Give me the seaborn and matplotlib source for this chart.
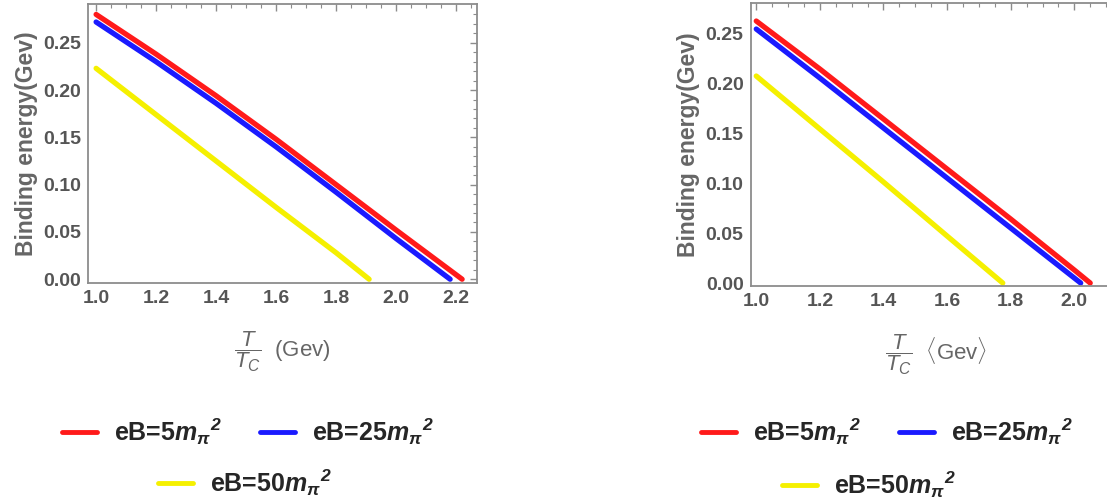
import numpy as np
import pandas as pd
import matplotlib
matplotlib.use("Agg")
import matplotlib.pyplot as plt
import seaborn as sns

# ---------------------------------------------------------
# data (T/Tc, binding energy in GeV)
# ---------------------------------------------------------
fields = ["eB=5", "eB=25", "eB=50"]

# left panel
left_red_x = [1.0, 1.2, 1.4, 1.6, 1.8, 2.0, 2.22]
left_red_y = [0.280, 0.238, 0.194, 0.148, 0.100, 0.052, 0.0]
left_blue_x = [1.0, 1.2, 1.4, 1.6, 1.8, 2.0, 2.18]
left_blue_y = [0.272, 0.230, 0.186, 0.140, 0.092, 0.043, 0.0]
left_yellow_x = [1.0, 1.2, 1.4, 1.6, 1.8, 1.91]
left_yellow_y = [0.223, 0.174, 0.125, 0.076, 0.028, 0.0]

# right panel
right_red_x = [1.0, 1.2, 1.4, 1.6, 1.8, 2.0, 2.05]
right_red_y = [0.262, 0.214, 0.164, 0.114, 0.064, 0.013, 0.0]
right_blue_x = [1.0, 1.2, 1.4, 1.6, 1.8, 2.0, 2.02]
right_blue_y = [0.254, 0.205, 0.155, 0.105, 0.055, 0.005, 0.0]
right_yellow_x = [1.0, 1.2, 1.4, 1.6, 1.775]
right_yellow_y = [0.207, 0.154, 0.101, 0.047, 0.0]

colors = {"eB=5": "#ff1a1a", "eB=25": "#1a1aff", "eB=50": "#f5f000"}
legend_labels = [r"eB=5$\mathbf{m}_{\mathbf{\pi}}{}^{\mathbf{2}}$",
                 r"eB=25$\mathbf{m}_{\mathbf{\pi}}{}^{\mathbf{2}}$",
                 r"eB=50$\mathbf{m}_{\mathbf{\pi}}{}^{\mathbf{2}}$"]


def make_df(xs, ys):
    rows = []
    for name, x, y in zip(fields, xs, ys):
        for a, b in zip(x, y):
            rows.append({"T": a, "E": b, "field": name})
    return pd.DataFrame(rows)


df_left = make_df([left_red_x, left_blue_x, left_yellow_x],
                  [left_red_y, left_blue_y, left_yellow_y])
df_right = make_df([right_red_x, right_blue_x, right_yellow_x],
                   [right_red_y, right_blue_y, right_yellow_y])

sns.set_style("white")
plt.rcParams["font.family"] = ["Liberation Sans", "DejaVu Sans"]
plt.rcParams["mathtext.fontset"] = "custom"
plt.rcParams["mathtext.rm"] = "Liberation Sans"
plt.rcParams["mathtext.it"] = "Liberation Sans:italic"
plt.rcParams["mathtext.bf"] = "Liberation Sans:italic:bold"

GRAY = "#555555"
SPINE = "#8c8c8c"

fig = plt.figure(figsize=(11.07, 5.04), dpi=100)
ax1 = fig.add_axes([0.0795, 0.4385, 0.3515, 0.5535])
ax2 = fig.add_axes([0.678, 0.4325, 0.335, 0.5615])


def style_axes(ax, df, xlim, ylim, xlabel):
    sns.lineplot(data=df, x="T", y="E", hue="field", hue_order=fields,
                 palette=colors, estimator=None, sort=True, linewidth=3.8,
                 legend=False, ax=ax)
    ax.set_xticks(np.arange(1.0, 2.21, 0.2))
    ax.set_xticks(np.arange(1.0, 2.3, 0.05), minor=True)
    ax.set_yticks(np.arange(0.0, 0.251, 0.05))
    ax.set_yticks(np.arange(0.0, 0.29, 0.01), minor=True)
    # limits after the ticks, otherwise set_xticks widens the view
    ax.set_xlim(*xlim)
    ax.set_ylim(*ylim)
    ax.xaxis.set_major_formatter(matplotlib.ticker.FormatStrFormatter("%.1f"))
    ax.yaxis.set_major_formatter(matplotlib.ticker.FormatStrFormatter("%.2f"))
    ax.tick_params(which="both", direction="in", top=True, right=True,
                   color=SPINE, labelcolor=GRAY, labelsize=14, pad=5)
    ax.tick_params(which="major", length=5, width=1)
    ax.tick_params(which="minor", length=3, width=0.8)
    for lab in ax.get_xticklabels() + ax.get_yticklabels():
        lab.set_fontweight("bold")
    for sp in ax.spines.values():
        sp.set_color(SPINE)
        sp.set_linewidth(1.3)
    ax.set_ylabel("Binding energy(Gev)", color="#666666", fontsize=16.5,
                  fontweight="bold", labelpad=4)
    ax.set_xlabel(xlabel, color="#666666", fontsize=16, labelpad=16)


style_axes(ax1, df_left, (0.973, 2.27), (-0.004, 0.291),
           r"$\dfrac{T}{T_C}$  (Gev)")
style_axes(ax2, df_right, (0.982, 2.148), (-0.003, 0.28),
           r"$\dfrac{T}{T_C}$  $\langle$Gev$\rangle$")


def add_legends(ax, row1_xy, row2_xy):
    lines = ax.get_lines()[:3]
    common = dict(loc="center", frameon=False,
                  handlelength=1.4, handletextpad=0.7,
                  prop={"weight": "bold", "size": 18})
    leg1 = fig.legend(lines[:2], legend_labels[:2], ncol=2,
                      bbox_to_anchor=row1_xy, columnspacing=1.5, **common)
    leg2 = fig.legend(lines[2:3], legend_labels[2:3],
                      bbox_to_anchor=row2_xy, **common)
    for leg in (leg1, leg2):
        for h in leg.get_lines():
            h.set_linewidth(3.5)


add_legends(ax1, (0.224, 0.143), (0.221, 0.042))
add_legends(ax2, (0.801, 0.143), (0.785, 0.038))

fig.savefig("out.png", dpi=100)
